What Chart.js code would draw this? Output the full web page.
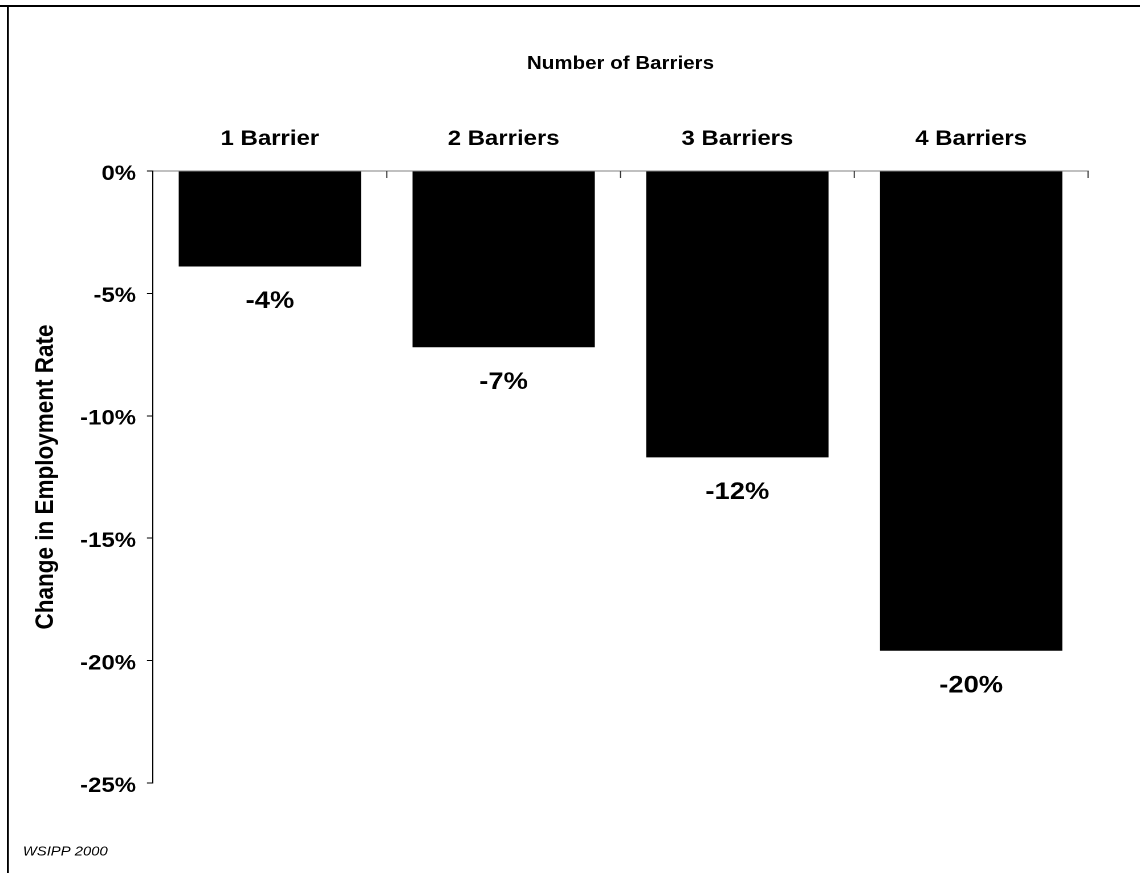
<!DOCTYPE html>
<html>
<head>
<meta charset="utf-8">
<title>Change in Employment Rate by Number of Barriers</title>
<script src="https://cdn.jsdelivr.net/npm/chart.js@4/dist/chart.umd.min.js"></script>
<style>
    html, body { margin: 0; padding: 0; background: #fff; overflow: hidden; }
    /* original figure is a bit wider than tall, so stretch horizontally */
    #wrap {
        position: absolute; left: 0; top: 0;
        width: 1000px; height: 873px;
        transform: scaleX(1.14); transform-origin: 0 0;
    }
</style>
</head>
<body>
<div id="wrap"><canvas id="barriersChart" width="1000" height="873"></canvas></div>
<script>
// Chart data
var categories = ['1 Barrier', '2 Barriers', '3 Barriers', '4 Barriers'];
var employmentChange = [-3.9, -7.2, -11.7, -19.6];
var yTicks = [0, -5, -10, -15, -20, -25];

var fontFamily = '"Liberation Sans", Arial, Helvetica, sans-serif';
Chart.defaults.font.family = fontFamily;
Chart.defaults.color = '#000';

// Frame, inner x ticks, bar value labels and source note
var extrasPlugin = {
    id: 'extras',
    afterDraw: function(chart) {
        var ctx = chart.ctx;
        var area = chart.chartArea;
        var xScale = chart.scales.x;

        ctx.save();

        // outer frame (top and left edges only are visible)
        ctx.fillStyle = '#000';
        ctx.fillRect(0, 5, chart.width, 2);
        ctx.fillRect(6, 5, 1.8, chart.height);

        // tick marks between categories, pointing into the plot
        ctx.strokeStyle = '#333';
        ctx.lineWidth = 1;
        for (var i = 0; i < categories.length; i++) {
            var xr = i < categories.length - 1
                ? (xScale.getPixelForValue(i) + xScale.getPixelForValue(i + 1)) / 2
                : area.right;
            ctx.beginPath();
            ctx.moveTo(xr, area.top);
            ctx.lineTo(xr, area.top + 7);
            ctx.stroke();
        }

        // value labels under each bar
        var meta = chart.getDatasetMeta(0);
        ctx.font = 'bold 24px ' + fontFamily;
        ctx.textAlign = 'center';
        ctx.textBaseline = 'middle';
        meta.data.forEach(function(bar, idx) {
            ctx.fillText(Math.round(employmentChange[idx]) + '%', bar.x, bar.y + 35);
        });

        // source note
        ctx.font = 'italic 13px ' + fontFamily;
        ctx.textAlign = 'left';
        ctx.fillText('WSIPP 2000', 20, 852);

        ctx.restore();
    }
};

var ctx = document.getElementById('barriersChart').getContext('2d');
new Chart(ctx, {
    type: 'bar',
    data: {
        labels: categories,
        datasets: [{
            label: 'Change in Employment Rate',
            data: employmentChange,
            backgroundColor: '#000',
            borderColor: '#000',
            borderWidth: 0,
            categoryPercentage: 1,
            barPercentage: 0.78
        }]
    },
    options: {
        responsive: false,
        animation: false,
        devicePixelRatio: 2,
        layout: {
            padding: { left: 8, top: 8, right: 45.6, bottom: 90 }
        },
        plugins: {
            legend: { display: false },
            tooltip: { enabled: false }
        },
        scales: {
            x: {
                position: 'top',
                offset: true,
                grid: { display: false, drawTicks: false },
                border: { display: true, color: '#808080', width: 1 },
                ticks: {
                    padding: 19,
                    font: { size: 21, weight: 'bold' }
                },
                title: {
                    display: true,
                    text: 'Number of Barriers',
                    font: { size: 18, weight: 'bold' },
                    padding: { top: 45, bottom: 0 }
                },
                afterFit: function(scale) { scale.height = 163; }
            },
            y: {
                min: yTicks[yTicks.length - 1],
                max: yTicks[0],
                grid: {
                    drawOnChartArea: false,
                    drawTicks: true,
                    tickLength: 5.3,
                    color: '#000',
                    lineWidth: 1
                },
                border: { display: true, color: '#000', width: 1 },
                afterBuildTicks: function(scale) {
                    scale.ticks = yTicks.map(function(v) { return { value: v }; });
                },
                ticks: {
                    padding: 9.6,
                    labelOffset: 3,
                    font: { size: 21, weight: 'bold' },
                    callback: function(v) { return v + '%'; }
                },
                title: {
                    display: true,
                    text: 'Change in Employment Rate',
                    font: { size: 22.5, weight: 'bold' },
                    padding: { top: 19, bottom: 0 }
                },
                afterFit: function(scale) { scale.width = 126.2; }
            }
        }
    },
    plugins: [extrasPlugin]
});
</script>
</body>
</html>
